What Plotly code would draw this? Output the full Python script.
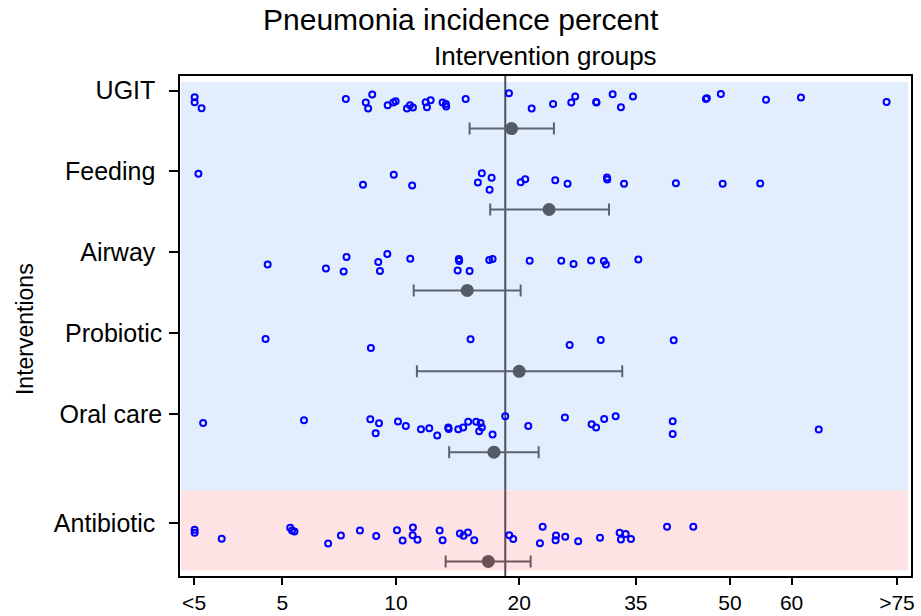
import numpy as np
import plotly.graph_objects as go

# ---------------- data ----------------
categories = ["UGIT", "Feeding", "Airway", "Probiotic", "Oral care", "Antibiotic"]
row_pos = [6, 5, 4, 3, 2, 0.65]

ugit_pct = [2.87, 2.87, 3.00, 7.40, 8.35, 8.47, 8.68, 9.52, 9.84, 9.98, 10.67, 10.86,
            11.05, 11.90, 11.99, 12.25, 13.12, 13.37, 13.39, 14.95, 18.94, 21.34, 23.80,
            26.04, 26.54, 29.31, 29.36, 31.61, 32.80, 34.57, 46.06, 46.20, 48.50, 55.90,
            61.47, 73.70]
ugit_jit = [0.082, 0.144, 0.218, 0.103, 0.149, 0.223, 0.050, 0.181, 0.149, 0.131, 0.223,
            0.181, 0.210, 0.144, 0.205, 0.121, 0.149, 0.165, 0.198, 0.103, 0.032, 0.223,
            0.165, 0.149, 0.074, 0.140, 0.149, 0.045, 0.205, 0.074, 0.103, 0.094, 0.041,
            0.115, 0.087, 0.140]

feeding_pct = [2.94, 8.21, 9.87, 11.00, 16.00, 16.35, 17.06, 17.25, 20.15, 20.64, 24.06,
               25.57, 30.81, 30.85, 33.25, 41.20, 48.80, 54.96]
feeding_jit = [0.028, 0.165, 0.041, 0.173, 0.136, 0.021, 0.226, 0.078, 0.132, 0.095, 0.108,
               0.152, 0.074, 0.099, 0.152, 0.145, 0.152, 0.149]

airway_pct = [4.56, 6.55, 7.30, 7.43, 9.00, 9.09, 9.50, 10.88, 14.29, 14.39, 14.41, 15.28,
              17.03, 17.34, 21.12, 24.79, 26.33, 28.62, 30.38, 30.66, 35.37]
airway_jit = [0.149, 0.198, 0.235, 0.057, 0.119, 0.230, 0.020, 0.078, 0.223, 0.082, 0.106,
              0.230, 0.094, 0.082, 0.103, 0.103, 0.144, 0.099, 0.106, 0.149, 0.087]

probiotic_pct = [4.50, 8.61, 15.36, 25.83, 29.94, 40.85]
probiotic_jit = [0.071, 0.182, 0.074, 0.145, 0.083, 0.087]

oral_pct = [3.03, 5.72, 8.58, 8.86, 9.04, 10.12, 10.60, 11.58, 12.15, 12.72, 13.55, 13.58,
            14.34, 14.74, 15.16, 15.85, 16.11, 16.24, 16.35, 17.34, 18.57, 20.97, 25.24,
            28.70, 29.31, 30.42, 32.04, 40.69, 40.69, 64.20]
oral_jit = [0.108, 0.074, 0.062, 0.235, 0.111, 0.090, 0.145, 0.186, 0.173, 0.264, 0.165,
            0.182, 0.186, 0.165, 0.095, 0.095, 0.210, 0.108, 0.165, 0.251, 0.025, 0.145,
            0.041, 0.124, 0.165, 0.058, 0.025, 0.087, 0.244, 0.189]

antibiotic_pct = [2.87, 2.87, 3.41, 5.25, 5.31, 5.39, 6.64, 7.18, 8.06, 8.89, 10.06, 10.40,
                  11.03, 11.05, 11.35, 12.90, 13.12, 14.47, 14.77, 15.14, 15.68, 18.97,
                  19.37, 22.27, 22.58, 24.10, 24.15, 25.28, 26.93, 29.84, 32.61, 32.80,
                  33.49, 34.27, 39.80, 44.00]
antibiotic_jit = [0.077, 0.114, 0.191, 0.054, 0.087, 0.099, 0.248, 0.149, 0.087, 0.157,
                  0.083, 0.210, 0.145, 0.050, 0.203, 0.087, 0.207, 0.124, 0.153, 0.111,
                  0.207, 0.145, 0.194, 0.244, 0.042, 0.207, 0.149, 0.166, 0.219, 0.178,
                  0.116, 0.198, 0.132, 0.194, 0.042, 0.042]

mean_pct = [19.21, 23.33, 15.08, 20.00, 17.47, 16.94]
ci_low = [15.28, 17.12, 11.10, 11.31, 13.62, 13.35]
ci_high = [23.90, 31.09, 20.15, 32.99, 22.12, 21.23]
overall_pct = 18.57

tick_pct = [2.86, 5, 10, 20, 35, 50, 60, 75]
tick_text = ["<5", "5", "10", "20", "35", "50", "60", ">75"]

points_pct = [ugit_pct, feeding_pct, airway_pct, probiotic_pct, oral_pct, antibiotic_pct]
points_jit = [ugit_jit, feeding_jit, airway_jit, probiotic_jit, oral_jit, antibiotic_jit]


def logit(p):
    q = np.asarray(p, dtype=float) / 100.0
    return np.log(q / (1 - q))


FONT = "Liberation Sans, Arial, sans-serif"
MEAN_OFFSET = 0.47
X_RANGE = [-3.618, 1.191]
Y_RANGE = [0, 6.18]

fig = go.Figure()

# background bands
fig.add_shape(type="rect", xref="x", yref="y", x0=-3.612, x1=1.171, y0=1.06, y1=6.107,
              fillcolor="#e3eefc", line_width=0, layer="below")
fig.add_shape(type="rect", xref="x", yref="y", x0=-3.612, x1=1.171, y0=0.069, y1=1.06,
              fillcolor="#fee3e4", line_width=0, layer="below")

# overall reference line
xo = float(logit(overall_pct))
fig.add_shape(type="line", xref="x", yref="y", x0=xo, x1=xo, y0=1.06, y1=Y_RANGE[1],
              line=dict(color="#4a515e", width=2), layer="below")
fig.add_shape(type="line", xref="x", yref="y", x0=xo, x1=xo, y0=Y_RANGE[0], y1=1.06,
              line=dict(color="#5c4a50", width=2), layer="below")

# points
for cat, rp, pct, jit in zip(categories, row_pos, points_pct, points_jit):
    fig.add_trace(go.Scatter(
        x=logit(pct), y=rp - np.asarray(jit), mode="markers", name=cat,
        marker=dict(symbol="circle-open", size=6, color="#0000ff", line=dict(width=2)),
        showlegend=False, hoverinfo="x+y"))

# means with CIs
for i, (cat, rp) in enumerate(zip(categories, row_pos)):
    m = float(logit(mean_pct[i]))
    hi = float(logit(ci_high[i])) - m
    lo = m - float(logit(ci_low[i]))
    is_ab = cat == "Antibiotic"
    col_bar = "#6d585c" if is_ab else "#5b6370"
    col_dot = "#6b5155" if is_ab else "#545b66"
    fig.add_trace(go.Scatter(
        x=[m], y=[rp - MEAN_OFFSET], mode="markers", showlegend=False,
        marker=dict(symbol="circle", size=13, color=col_dot),
        error_x=dict(type="data", symmetric=False, array=[hi], arrayminus=[lo],
                     color=col_bar, thickness=2, width=6)))

fig.update_xaxes(range=X_RANGE, tickmode="array", tickvals=logit(tick_pct), ticktext=tick_text,
                 showgrid=False, zeroline=False, showline=True, mirror=True, automargin=False,
                 linecolor="black", linewidth=1.5, ticks="outside", ticklen=7, tickwidth=1.5,
                 tickcolor="black", tickfont=dict(family=FONT, size=21, color="black"))
fig.update_yaxes(range=Y_RANGE, tickmode="array", tickvals=row_pos,
                 ticktext=["UGIT\u00a0", "Feeding\u00a0", "Airway\u00a0", "Probiotic",
                           "Oral care", "Antibiotic\u00a0"],
                 showgrid=False, zeroline=False, showline=True, mirror=True, automargin=False,
                 linecolor="black", linewidth=1.5, ticks="outside", ticklen=9, tickwidth=1.5,
                 tickcolor="black", ticklabelstandoff=2,
                 tickfont=dict(family=FONT, size=25, color="black"))

fig.update_layout(
    width=921, height=616, margin=dict(l=180, r=10, t=76, b=40, pad=0, autoexpand=False),
    plot_bgcolor="white", paper_bgcolor="white", showlegend=False,
    font=dict(family=FONT, color="black"),
    annotations=[
        dict(text="Pneumonia incidence percent", xref="paper", yref="paper",
             x=0.384, y=1.112, xanchor="center", yanchor="middle", showarrow=False,
             font=dict(family=FONT, size=30, color="black")),
        dict(text="Intervention groups", xref="paper", yref="paper",
             x=0.5, y=1.04, xanchor="center", yanchor="middle", showarrow=False,
             font=dict(family=FONT, size=26, color="black")),
        dict(text="Interventions", xref="paper", yref="paper", textangle=-90,
             x=-0.212, y=0.494, xanchor="center", yanchor="middle", showarrow=False,
             font=dict(family=FONT, size=23, color="black")),
    ],
)

fig.write_html("out.html")
